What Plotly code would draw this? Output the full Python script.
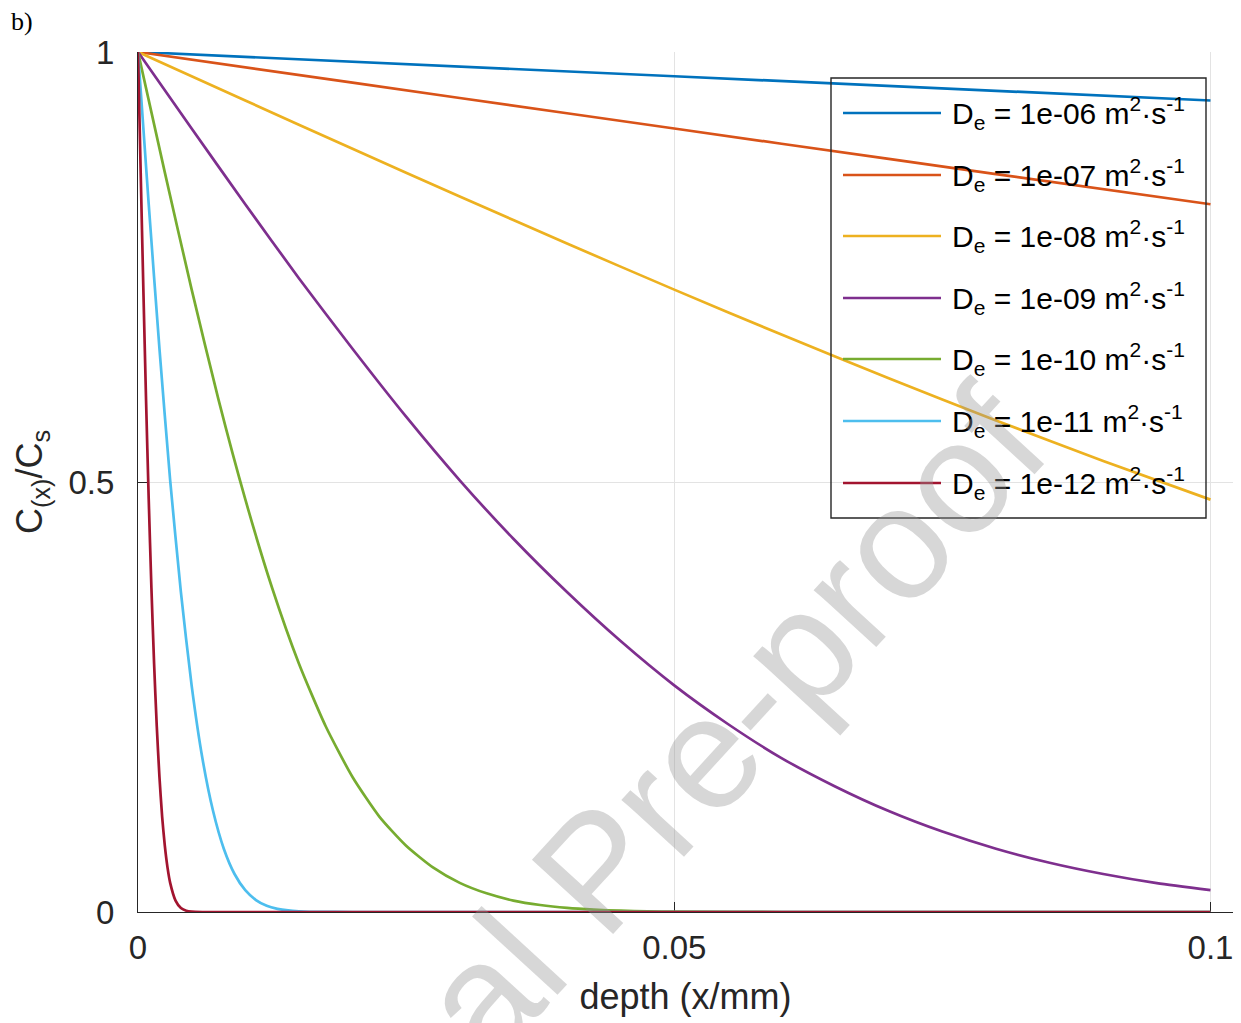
import plotly.graph_objects as go

# ---- data ----
x_blue = [0, 0.05, 0.1]
y_blue = [1, 0.9718, 0.9436]

x_orange = [0, 0.02, 0.04, 0.06, 0.08, 0.1]
y_orange = [1, 0.9643, 0.9288, 0.8933, 0.8580, 0.8230]

x_yellow = [0, 0.01, 0.02, 0.03, 0.04, 0.05, 0.06, 0.07, 0.08, 0.09, 0.1]
y_yellow = [1, 0.9436, 0.8875, 0.8320, 0.7773, 0.7237, 0.6714, 0.6206, 0.5716, 0.5245, 0.4795]

x_purple = [0, 0.005, 0.01, 0.015, 0.02, 0.025, 0.03, 0.035, 0.04, 0.045, 0.05,
            0.055, 0.06, 0.065, 0.07, 0.075, 0.08, 0.085, 0.09, 0.095, 0.1]
y_purple = [1, 0.911, 0.823, 0.737, 0.655, 0.576, 0.502, 0.434, 0.372, 0.315, 0.2635,
            0.2186, 0.179, 0.146, 0.1174, 0.0935, 0.0736, 0.0573, 0.0442, 0.0336, 0.0254]

x_green = [0, 0.0025, 0.005, 0.0075, 0.01, 0.0125, 0.015, 0.0175, 0.02, 0.0225, 0.025,
           0.0275, 0.03, 0.0325, 0.035, 0.0375, 0.04, 0.0425, 0.045, 0.0475, 0.05, 0.06, 0.1]
y_green = [1, 0.860, 0.724, 0.596, 0.480, 0.377, 0.289, 0.216, 0.157, 0.111, 0.0771,
           0.0519, 0.0339, 0.0217, 0.0133, 0.0081, 0.0047, 0.0027, 0.0015, 0.0008, 0.0004, 0.00002, 0]

x_cyan = [0, 0.001, 0.002, 0.003, 0.004, 0.005, 0.006, 0.007, 0.008, 0.009, 0.010,
          0.011, 0.012, 0.013, 0.014, 0.015, 0.016, 0.02, 0.1]
y_cyan = [1, 0.823, 0.655, 0.502, 0.372, 0.2635, 0.179, 0.1174, 0.0736, 0.0442, 0.0254,
          0.0139, 0.0072, 0.0037, 0.0018, 0.0008, 0.0003, 0.00001, 0]

x_red = [0, 0.00025, 0.0005, 0.00075, 0.001, 0.00125, 0.0015, 0.00175, 0.002, 0.00225,
         0.0025, 0.00275, 0.003, 0.0035, 0.004, 0.0045, 0.005, 0.006, 0.1]
y_red = [1, 0.860, 0.724, 0.596, 0.480, 0.377, 0.289, 0.216, 0.157, 0.111,
         0.0771, 0.0519, 0.0339, 0.0133, 0.0047, 0.0015, 0.0004, 0.00002, 0]

series_labels = ["1e-06", "1e-07", "1e-08", "1e-09", "1e-10", "1e-11", "1e-12"]
series_colors = ["#0072BD", "#D95319", "#EDB120", "#7E2F8E", "#77AC30", "#4DBEEE", "#A2142F"]
series_x = [x_blue, x_orange, x_yellow, x_purple, x_green, x_cyan, x_red]
series_y = [y_blue, y_orange, y_yellow, y_purple, y_green, y_cyan, y_red]

x_ticks = [0, 0.05, 0.1]
x_ticktext = ["0", "0.05", "0.1"]
y_ticks = [0, 0.5, 1]
y_ticktext = ["0", "0.5", "1"]

# ---- figure ----
W, H = 1241, 1023
ML, MR, MT, MB = 138, 8, 52, 111
PW, PH = W - ML - MR, H - MT - MB
AX = "#262626"
GRID = "#e3e3e3"
FONT = "Liberation Sans, Arial, Helvetica, sans-serif"


def px(xp):
    return (xp - ML) / PW


def py(yp):
    return (H - MB - yp) / PH


fig = go.Figure()
for xs, ys, lab, col in zip(series_x, series_y, series_labels, series_colors):
    fig.add_trace(go.Scatter(
        x=xs, y=ys, mode="lines", name=lab,
        line=dict(color=col, width=2.7, shape="spline", smoothing=0.6),
        showlegend=False, hoverinfo="skip"))

annotations = []
shapes = []

# custom legend (transparent box, as in the reference)
shapes.append(dict(type="rect", xref="paper", yref="paper",
                   x0=px(831), x1=px(1206), y0=py(518), y1=py(78),
                   line=dict(color=AX, width=1.4), fillcolor="rgba(0,0,0,0)", layer="above"))
row_y = [113, 175, 236, 298, 359, 421, 483]
for ry, lab, col in zip(row_y, series_labels, series_colors):
    shapes.append(dict(type="line", xref="paper", yref="paper",
                       x0=px(843), x1=px(941), y0=py(ry), y1=py(ry),
                       line=dict(color=col, width=2.7), layer="above"))
    annotations.append(dict(
        xref="paper", yref="paper", x=px(950), y=py(ry), xanchor="left", yanchor="middle",
        text=f"D<sub>e</sub> = {lab} m<sup>2</sup>·s<sup>-1</sup>", showarrow=False,
        font=dict(family=FONT, size=30, color="#000000")))

# panel label
annotations.append(dict(xref="paper", yref="paper", x=px(22), y=py(21),
                        xanchor="center", yanchor="middle", text="b)", showarrow=False,
                        font=dict(family="Liberation Serif, Times New Roman, serif", size=26, color="#000000")))

# watermark
annotations.append(dict(xref="paper", yref="paper", x=px(596), y=py(870),
                        xanchor="center", yanchor="middle", text="Journal Pre-proof",
                        showarrow=False, textangle=-47.5,
                        font=dict(family=FONT, size=160, color="rgba(150,150,150,0.38)")))

fig.update_layout(
    width=W, height=H, autosize=False,
    margin=dict(l=ML, r=MR, t=MT, b=MB, pad=0),
    paper_bgcolor="white", plot_bgcolor="white",
    font=dict(family=FONT, color=AX),
    shapes=shapes, annotations=annotations,
    showlegend=False,
)
fig.update_xaxes(
    range=[0, 0.1021], tickvals=x_ticks, ticktext=x_ticktext,
    showgrid=True, gridcolor=GRID, gridwidth=1, zeroline=False,
    showline=True, linecolor=AX, linewidth=1.2,
    ticks="inside", ticklen=10, tickwidth=1.2, tickcolor=AX,
    tickfont=dict(family=FONT, size=33, color=AX), ticklabelstandoff=6,
    title=dict(text="depth (x/mm)", font=dict(family=FONT, size=36, color=AX), standoff=19),
    layer="below traces",
)
fig.update_yaxes(
    range=[0, 1], tickvals=y_ticks, ticktext=y_ticktext,
    showgrid=True, gridcolor=GRID, gridwidth=1, zeroline=False,
    showline=True, linecolor=AX, linewidth=1.2,
    ticks="inside", ticklen=10, tickwidth=1.2, tickcolor=AX,
    tickfont=dict(family=FONT, size=33, color=AX), ticklabelstandoff=16,
    title=dict(text="C<sub>(x)</sub>/C<sub>s</sub>", font=dict(family=FONT, size=36, color=AX), standoff=14),
    layer="below traces",
)

fig.write_html("out.html")
